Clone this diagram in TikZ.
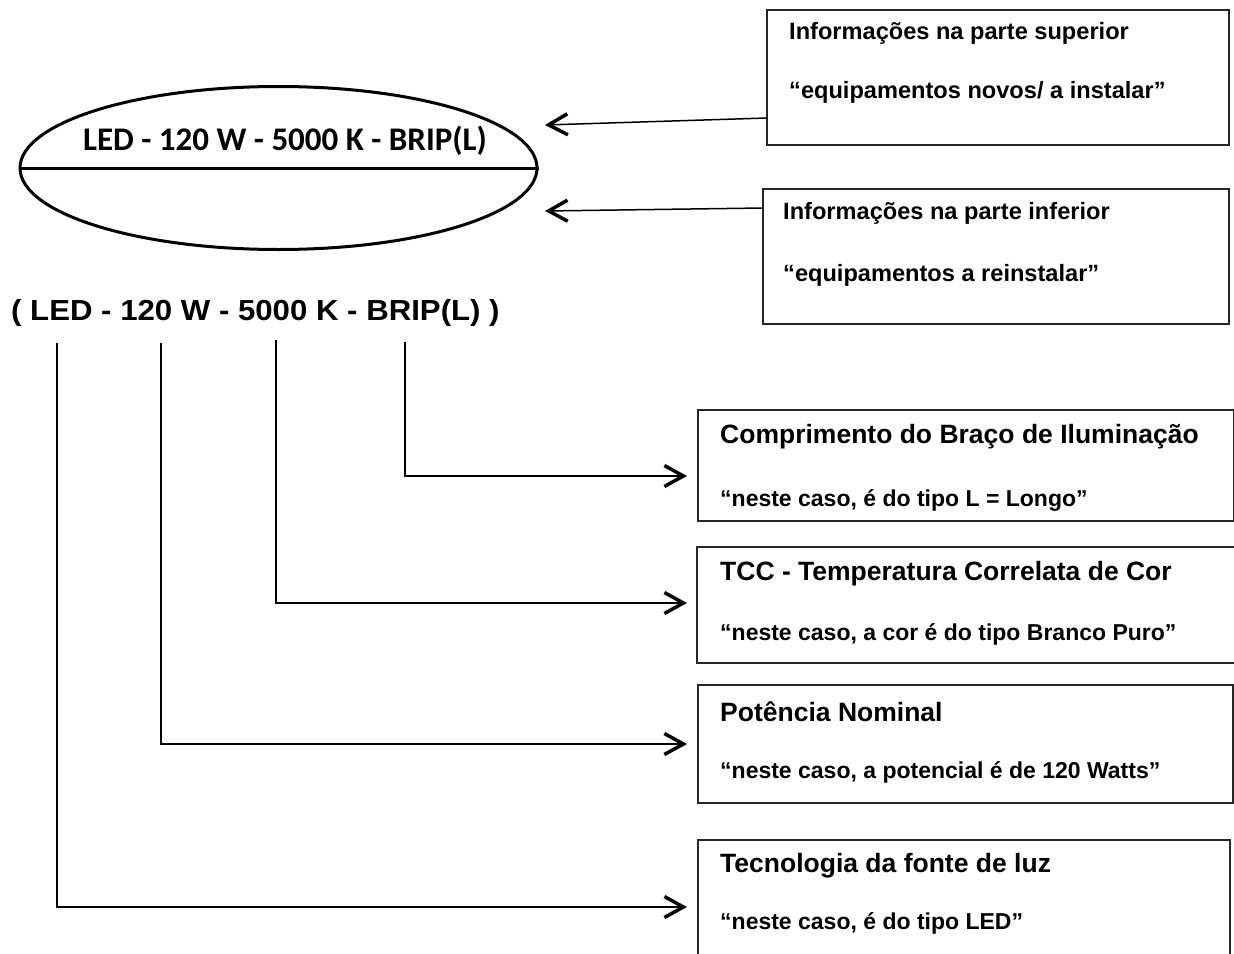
\documentclass[tikz,border=0pt]{standalone}
\usepackage{fontspec}
\setmainfont{Liberation Sans}
\newfontfamily\calib{Carlito}
\usetikzlibrary{arrows.meta,shapes.geometric}
\tikzset{
  infobox/.style={draw=black!85, line width=1.2pt},
  toptext/.style={anchor=west, inner sep=0pt, font=\bfseries\fontsize{23.6}{27}\selectfont},
  boxtext/.style={anchor=west, inner sep=0pt, font=\bfseries\fontsize{23}{27}\selectfont},
  titletext/.style={anchor=west, inner sep=0pt, font=\bfseries\fontsize{26.5}{30}\selectfont},
  conn/.style={line width=1.5pt, -{Straight Barb[length=19pt,width=21pt,line width=3.5pt]}},
}
\begin{document}
\begin{tikzpicture}[x=1pt,y=1pt]
\useasboundingbox (0,0) rectangle (1234,-953);
% ellipse
\node[draw, line width=3pt, ellipse, minimum width=517pt, minimum height=163pt, inner sep=0pt] (ell) at (278.5,-168) {};
\draw[line width=3pt] (ell.west) -- (ell.east);
\node[inner sep=0pt, font=\calib\bfseries\fontsize{33}{36}\selectfont] (ellt) at (285,-141) {LED - 120 W - 5000 K - BRIP(L)};
\coordinate (eup) at (545,-125);
\coordinate (elo) at (545,-211);
% top boxes
\draw[infobox] (767,-10) rectangle (1229,-145);
\coordinate (b1w) at (767,-118);
\node[toptext] (b1a) at (789,-33) {Informações na parte superior};
\node[toptext] (b1b) at (789,-92) {“equipamentos novos/ a instalar”};
\draw[infobox] (763,-189) rectangle (1229,-324);
\coordinate (b2w) at (763,-208);
\node[toptext] (b2a) at (783,-213) {Informações na parte inferior};
\node[toptext] (b2b) at (783,-275) {“equipamentos a reinstalar”};
\draw[conn] (b1w) -- (eup);
\draw[conn] (b2w) -- (elo);
% main code
\node[anchor=west, inner sep=0pt, font=\bfseries\fontsize{29}{34}\selectfont] (code) at (11,-313) {\scalebox{1.075}[1]{( LED - 120 W - 5000 K - BRIP(L) )}};
\coordinate (s1) at (57,-343);
\coordinate (s2) at (161,-343);
\coordinate (s3) at (276,-340);
\coordinate (s4) at (405,-342);
\coordinate (t1) at (687,-907);
\coordinate (t2) at (687,-744);
\coordinate (t3) at (687,-603);
\coordinate (t4) at (687,-476);
\draw[conn] (s4) |- (t4);
\draw[conn] (s3) |- (t3);
\draw[conn] (s2) |- (t2);
\draw[conn] (s1) |- (t1);
% right boxes
\draw[infobox] (698,-410) rectangle (1234,-521);
\node[titletext] (c3a) at (720,-437) {Comprimento do Braço de Iluminação};
\node[boxtext] (c3b) at (720,-500) {“neste caso, é do tipo L = Longo”};
\draw[infobox] (697,-547) rectangle (1236,-663);
\node[titletext] (c4a) at (720,-574) {TCC - Temperatura Correlata de Cor};
\node[boxtext] (c4b) at (720,-634) {“neste caso, a cor é do tipo Branco Puro”};
\draw[infobox] (698,-685) rectangle (1233,-803);
\node[titletext] (c5a) at (720,-712) {Potência Nominal};
\node[boxtext] (c5b) at (720,-772) {“neste caso, a potencial é de 120 Watts”};
\draw[infobox] (698,-840) rectangle (1230,-970);
\node[titletext] (c6a) at (720,-866) {Tecnologia da fonte de luz};
\node[boxtext] (c6b) at (720,-923) {“neste caso, é do tipo LED”};
\end{tikzpicture}
\end{document}
